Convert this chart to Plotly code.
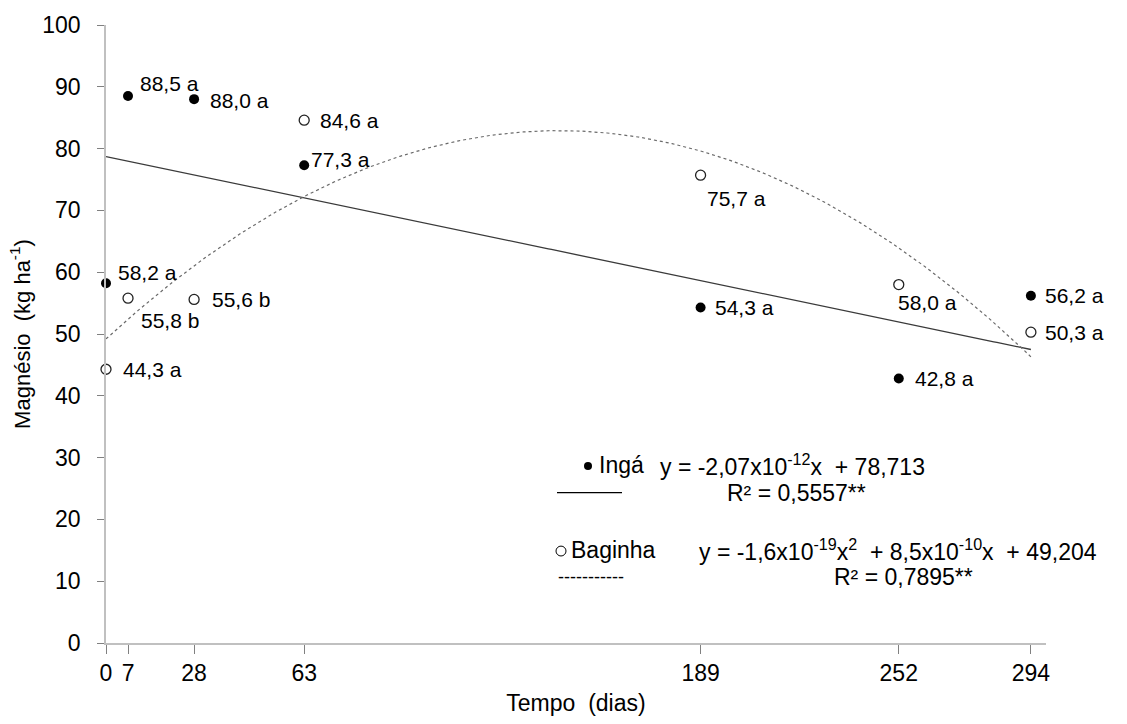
import numpy as np
import plotly.graph_objects as go

# Sampling days (x) and magnesium released (kg/ha)
dias = [0, 7, 28, 63, 189, 252, 294]
inga = [58.2, 88.5, 88.0, 77.3, 54.3, 42.8, 56.2]
baginha = [44.3, 55.8, 55.6, 84.6, 75.7, 58.0, 50.3]
inga_letras = ["a", "a", "a", "a", "a", "a", "a"]
baginha_letras = ["a", "b", "b", "a", "a", "a", "a"]

# Regression curves, coefficients per day (highest power first)
inga_coef = [-0.1062, 78.713]
baginha_coef = [-0.001626, 0.4682, 49.204]

# Label offsets (pixels) relative to each marker
inga_off = [(10, 11), (10, 13), (14, -1), (5, 6), (12, 0), (14, 0), (12, 0)]
baginha_off = [(15, 0), (11, -22), (16, 0), (14, 0), (4, -23), (-3, -18), (12, 0)]

FONT = "Liberation Sans, Arial, sans-serif"
W, H = 1127, 724
L, R, T, B = 106, 81, 20, 79
PW, PH = W - L - R, H - T - B


def px(x):
    return (x - L) / PW


def py(y):
    return (H - B - y) / PH


fig = go.Figure()

xs = np.linspace(0, 294, 300)
fig.add_trace(go.Scatter(x=xs, y=np.polyval(inga_coef, xs), mode="lines",
                         line=dict(color="#3a3a3a", width=1.3), hoverinfo="skip"))
fig.add_trace(go.Scatter(x=xs, y=np.polyval(baginha_coef, xs), mode="lines",
                         line=dict(color="#6a6a6a", width=1.2, dash="dot"), hoverinfo="skip"))

fig.add_trace(go.Scatter(x=dias, y=inga, mode="markers", name="Ingá", cliponaxis=False,
                         marker=dict(size=10, color="black", line=dict(width=0))))
fig.add_trace(go.Scatter(x=dias, y=baginha, mode="markers", name="Baginha", cliponaxis=False,
                         marker=dict(size=10, color="white", line=dict(width=1.3, color="#222222"))))

annotations = []
for serie, letras, offs in ((inga, inga_letras, inga_off), (baginha, baginha_letras, baginha_off)):
    for x, v, l, (dx, dy) in zip(dias, serie, letras, offs):
        annotations.append(dict(
            x=x, y=v, xref="x", yref="y",
            text=f"{v:.1f}".replace(".", ",") + " " + l,
            showarrow=False, xanchor="left", yanchor="middle",
            xshift=dx, yshift=dy, font=dict(family=FONT, size=21, color="black")))


def note(text, x, y, size=23, anchor="left"):
    annotations.append(dict(x=px(x), y=py(y), xref="paper", yref="paper", text=text,
                            showarrow=False, xanchor=anchor, yanchor="middle",
                            font=dict(family=FONT, size=size, color="black")))


def dot(cx, cy, d, fill, lw):
    fig.add_shape(type="circle", xref="paper", yref="paper",
                  x0=px(cx - d / 2), x1=px(cx + d / 2),
                  y0=py(cy + d / 2), y1=py(cy - d / 2),
                  fillcolor=fill, line=dict(color="black", width=lw))


dot(588, 466, 8, "black", 0)
note("Ingá", 597, 465)
note("y = -2,07x10<sup>-12</sup>x  + 78,713", 658, 465)
note("R² = 0,5557**", 725, 493)
dot(561, 552, 10, "white", 1)
note("Baginha", 569, 551)
note("y = -1,6x10<sup>-19</sup>x<sup>2</sup>  + 8,5x10<sup>-10</sup>x  + 49,204", 697, 551)
note("R² = 0,7895**", 832, 578)
note("-----------", 556, 578, size=18)

fig.add_shape(type="line", xref="paper", yref="paper",
              x0=px(557), x1=px(622), y0=py(493), y1=py(493),
              line=dict(color="black", width=1.2))

fig.update_layout(
    width=W, height=H,
    margin=dict(l=L, r=R, t=T, b=B),
    plot_bgcolor="white", paper_bgcolor="white",
    showlegend=False,
    annotations=annotations,
    font=dict(family=FONT, color="black"),
    xaxis=dict(range=[0, 298.8], tickvals=dias, ticktext=[str(d) for d in dias],
               ticks="outside", ticklen=9, tickcolor="#808080", tickwidth=1,
               showline=True, linecolor="#c0c0c0", linewidth=1.5,
               showgrid=False, zeroline=False,
               tickfont=dict(family=FONT, size=23, color="black"),
               title=dict(text="Tempo  (dias)", font=dict(family=FONT, size=23, color="black"),
                          standoff=10)),
    yaxis=dict(range=[0, 100], dtick=10, ticks="outside", ticklen=7,
               tickcolor="#808080", tickwidth=1,
               showline=True, linecolor="#c0c0c0", linewidth=1.5,
               showgrid=False, zeroline=False, ticklabelstandoff=12,
               tickfont=dict(family=FONT, size=23, color="black"),
               title=dict(text="Magnésio  (kg ha<sup>-1</sup>)",
                          font=dict(family=FONT, size=22, color="black"), standoff=6)),
)

fig.write_html("out.html")
